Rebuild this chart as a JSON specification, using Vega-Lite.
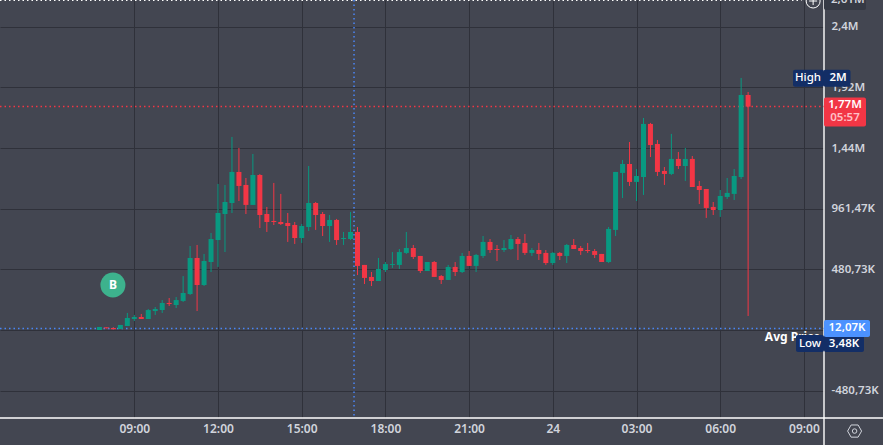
{
  "$schema": "https://vega.github.io/schema/vega-lite/v6.json",
  "width": 824,
  "height": 418,
  "autosize": {"type": "none"},
  "padding": {"left": 0, "top": 0, "right": 59, "bottom": 27},
  "background": "#434651",
  "view": {"stroke": null},
  "config": {"font": "Noto Sans"},
  "datasets": {
    "candles": [
      {"t":"2024-01-23T07:45:00Z","o":0,"h":24,"l":0,"c":24},
      {"t":"2024-01-23T08:00:00Z","o":21,"h":21,"l":13,"c":13},
      {"t":"2024-01-23T08:15:00Z","o":16,"h":21,"l":6,"c":6},
      {"t":"2024-01-23T08:30:00Z","o":8,"h":40,"l":8,"c":40},
      {"t":"2024-01-23T08:45:00Z","o":32,"h":135,"l":32,"c":95},
      {"t":"2024-01-23T09:00:00Z","o":87,"h":119,"l":71,"c":103},
      {"t":"2024-01-23T09:15:00Z","o":103,"h":127,"l":87,"c":87},
      {"t":"2024-01-23T09:30:00Z","o":87,"h":166,"l":87,"c":158},
      {"t":"2024-01-23T09:45:00Z","o":150,"h":182,"l":119,"c":166},
      {"t":"2024-01-23T10:00:00Z","o":158,"h":237,"l":135,"c":214},
      {"t":"2024-01-23T10:15:00Z","o":214,"h":253,"l":190,"c":206},
      {"t":"2024-01-23T10:30:00Z","o":198,"h":261,"l":174,"c":237},
      {"t":"2024-01-23T10:45:00Z","o":230,"h":427,"l":222,"c":293},
      {"t":"2024-01-23T11:00:00Z","o":285,"h":665,"l":277,"c":570},
      {"t":"2024-01-23T11:15:00Z","o":570,"h":673,"l":150,"c":356},
      {"t":"2024-01-23T11:30:00Z","o":356,"h":602,"l":348,"c":546},
      {"t":"2024-01-23T11:45:00Z","o":538,"h":768,"l":459,"c":720},
      {"t":"2024-01-23T12:00:00Z","o":712,"h":1156,"l":499,"c":926},
      {"t":"2024-01-23T12:15:00Z","o":918,"h":1148,"l":617,"c":1013},
      {"t":"2024-01-23T12:30:00Z","o":1005,"h":1528,"l":926,"c":1251},
      {"t":"2024-01-23T12:45:00Z","o":1251,"h":1441,"l":1021,"c":1140},
      {"t":"2024-01-23T13:00:00Z","o":1148,"h":1203,"l":918,"c":990},
      {"t":"2024-01-23T13:15:00Z","o":990,"h":1393,"l":990,"c":1227},
      {"t":"2024-01-23T13:30:00Z","o":1227,"h":1235,"l":807,"c":910},
      {"t":"2024-01-23T13:45:00Z","o":918,"h":974,"l":776,"c":855},
      {"t":"2024-01-23T14:00:00Z","o":863,"h":1164,"l":831,"c":855},
      {"t":"2024-01-23T14:15:00Z","o":855,"h":1077,"l":831,"c":839},
      {"t":"2024-01-23T14:30:00Z","o":847,"h":926,"l":697,"c":823},
      {"t":"2024-01-23T14:45:00Z","o":831,"h":855,"l":681,"c":728},
      {"t":"2024-01-23T15:00:00Z","o":728,"h":839,"l":689,"c":823},
      {"t":"2024-01-23T15:15:00Z","o":815,"h":1298,"l":784,"c":1005},
      {"t":"2024-01-23T15:30:00Z","o":1005,"h":1013,"l":792,"c":910},
      {"t":"2024-01-23T15:45:00Z","o":918,"h":934,"l":744,"c":823},
      {"t":"2024-01-23T16:00:00Z","o":823,"h":910,"l":697,"c":871},
      {"t":"2024-01-23T16:15:00Z","o":871,"h":879,"l":673,"c":712},
      {"t":"2024-01-23T16:30:00Z","o":720,"h":776,"l":673,"c":728},
      {"t":"2024-01-23T16:45:00Z","o":720,"h":934,"l":712,"c":776},
      {"t":"2024-01-23T17:00:00Z","o":776,"h":815,"l":435,"c":507},
      {"t":"2024-01-23T17:15:00Z","o":515,"h":515,"l":364,"c":412},
      {"t":"2024-01-23T17:30:00Z","o":420,"h":459,"l":348,"c":388},
      {"t":"2024-01-23T17:45:00Z","o":388,"h":570,"l":388,"c":483},
      {"t":"2024-01-23T18:00:00Z","o":475,"h":538,"l":459,"c":522},
      {"t":"2024-01-23T18:15:00Z","o":515,"h":617,"l":491,"c":522},
      {"t":"2024-01-23T18:30:00Z","o":515,"h":641,"l":483,"c":617},
      {"t":"2024-01-23T18:45:00Z","o":610,"h":776,"l":602,"c":649},
      {"t":"2024-01-23T19:00:00Z","o":649,"h":673,"l":562,"c":578},
      {"t":"2024-01-23T19:15:00Z","o":586,"h":586,"l":451,"c":467},
      {"t":"2024-01-23T19:30:00Z","o":467,"h":538,"l":467,"c":538},
      {"t":"2024-01-23T19:45:00Z","o":538,"h":546,"l":420,"c":420},
      {"t":"2024-01-23T20:00:00Z","o":427,"h":435,"l":364,"c":396},
      {"t":"2024-01-23T20:15:00Z","o":396,"h":515,"l":396,"c":499},
      {"t":"2024-01-23T20:30:00Z","o":499,"h":538,"l":427,"c":459},
      {"t":"2024-01-23T20:45:00Z","o":459,"h":610,"l":451,"c":586},
      {"t":"2024-01-23T21:00:00Z","o":586,"h":625,"l":507,"c":507},
      {"t":"2024-01-23T21:15:00Z","o":507,"h":602,"l":459,"c":594},
      {"t":"2024-01-23T21:30:00Z","o":586,"h":744,"l":570,"c":697},
      {"t":"2024-01-23T21:45:00Z","o":697,"h":720,"l":610,"c":633},
      {"t":"2024-01-23T22:00:00Z","o":641,"h":673,"l":546,"c":633},
      {"t":"2024-01-23T22:15:00Z","o":633,"h":712,"l":617,"c":649},
      {"t":"2024-01-23T22:30:00Z","o":641,"h":752,"l":633,"c":720},
      {"t":"2024-01-23T22:45:00Z","o":720,"h":736,"l":554,"c":681},
      {"t":"2024-01-23T23:00:00Z","o":689,"h":760,"l":594,"c":610},
      {"t":"2024-01-23T23:15:00Z","o":610,"h":649,"l":586,"c":633},
      {"t":"2024-01-23T23:30:00Z","o":633,"h":689,"l":554,"c":602},
      {"t":"2024-01-23T23:45:00Z","o":610,"h":633,"l":515,"c":530},
      {"t":"2024-01-24T00:00:00Z","o":530,"h":617,"l":515,"c":610},
      {"t":"2024-01-24T00:15:00Z","o":610,"h":617,"l":554,"c":586},
      {"t":"2024-01-24T00:30:00Z","o":586,"h":681,"l":530,"c":673},
      {"t":"2024-01-24T00:45:00Z","o":673,"h":720,"l":641,"c":641},
      {"t":"2024-01-24T01:00:00Z","o":649,"h":665,"l":594,"c":625},
      {"t":"2024-01-24T01:15:00Z","o":633,"h":689,"l":610,"c":625},
      {"t":"2024-01-24T01:30:00Z","o":625,"h":641,"l":570,"c":594},
      {"t":"2024-01-24T01:45:00Z","o":602,"h":602,"l":538,"c":538},
      {"t":"2024-01-24T02:00:00Z","o":538,"h":815,"l":530,"c":800},
      {"t":"2024-01-24T02:15:00Z","o":792,"h":1251,"l":744,"c":1251},
      {"t":"2024-01-24T02:30:00Z","o":1243,"h":1346,"l":1045,"c":1314},
      {"t":"2024-01-24T02:45:00Z","o":1314,"h":1488,"l":1140,"c":1172},
      {"t":"2024-01-24T03:00:00Z","o":1172,"h":1274,"l":1021,"c":1219},
      {"t":"2024-01-24T03:15:00Z","o":1211,"h":1678,"l":1069,"c":1631},
      {"t":"2024-01-24T03:30:00Z","o":1631,"h":1639,"l":1369,"c":1464},
      {"t":"2024-01-24T03:45:00Z","o":1472,"h":1504,"l":1219,"c":1251},
      {"t":"2024-01-24T04:00:00Z","o":1259,"h":1290,"l":1148,"c":1235},
      {"t":"2024-01-24T04:15:00Z","o":1235,"h":1552,"l":1227,"c":1354},
      {"t":"2024-01-24T04:30:00Z","o":1354,"h":1409,"l":1274,"c":1298},
      {"t":"2024-01-24T04:45:00Z","o":1298,"h":1441,"l":1180,"c":1354},
      {"t":"2024-01-24T05:00:00Z","o":1354,"h":1377,"l":1132,"c":1132},
      {"t":"2024-01-24T05:15:00Z","o":1140,"h":1180,"l":997,"c":1108},
      {"t":"2024-01-24T05:30:00Z","o":1116,"h":1116,"l":887,"c":966},
      {"t":"2024-01-24T05:45:00Z","o":974,"h":1013,"l":910,"c":950},
      {"t":"2024-01-24T06:00:00Z","o":950,"h":1108,"l":895,"c":1061},
      {"t":"2024-01-24T06:15:00Z","o":1053,"h":1203,"l":1037,"c":1085},
      {"t":"2024-01-24T06:30:00Z","o":1077,"h":1274,"l":1029,"c":1219},
      {"t":"2024-01-24T06:45:00Z","o":1211,"h":1995,"l":1195,"c":1860},
      {"t":"2024-01-24T07:00:00Z","o":1860,"h":1884,"l":111,"c":1768}
    ]
  },
  "data": {"name": "candles"},
  "encoding": {
    "x": {
      "field": "t",
      "type": "temporal",
      "title": null,
      "scale": {"type": "utc", "domain": [1705983070000, 1706089392000], "nice": false, "padding": 0},
      "axis": {
        "values": [1706000400000, 1706011200000, 1706022000000, 1706032800000, 1706043600000, 1706054400000, 1706065200000, 1706076000000, 1706086800000],
        "grid": true,
        "gridColor": "#2f313a",
        "gridWidth": 1,
        "domain": false,
        "ticks": false,
        "labelColor": "#d1d4dc",
        "labelFontSize": 12,
        "labelFontWeight": 600,
        "labelPadding": 5,
        "labelOverlap": false,
        "labelExpr": "utchours(datum.value) == 0 ? '24' : utcFormat(datum.value, '%H:%M')"
      }
    },
    "y": {
      "field": "o",
      "type": "quantitative",
      "title": null,
      "scale": {"domain": [-696.6, 2612], "nice": false, "zero": false},
      "axis": {
        "orient": "right",
        "values": [-480.73, 0, 480.73, 961.47, 1440, 1920, 2400],
        "grid": true,
        "gridColor": "#2f313a",
        "gridWidth": 1,
        "domain": false,
        "ticks": false,
        "labelColor": "#d1d4dc",
        "labelFontSize": 11.5,
        "labelFontWeight": 600,
        "labelPadding": 7,
        "labelExpr": "datum.value == 0 ? '' : datum.value == 2400 ? '2,4M' : datum.value == 1920 ? '1,92M' : datum.value == 1440 ? '1,44M' : replace(replace(format(datum.value, '.2f'), '.', ','), '\u2212', '-') + 'K'"
      }
    }
  },
  "layer": [
    {
      "data": {"values": [{"t":"2024-01-24T09:43:12Z","o":2612,"c":-910}]},
      "mark": {"type": "rule", "color": "#ffffff", "strokeWidth": 1.4},
      "encoding": {"y2": {"field": "c"}}
    },
    {
      "data": {"values": [{"t":"2024-01-23T04:11:10Z","t2":"2024-01-24T11:50:00Z","o":-696.6}], "format": {"parse": {"t": "date", "t2": "date"}}},
      "mark": {"type": "rule", "color": "#ffffff", "strokeWidth": 1.4},
      "encoding": {"x2": {"field": "t2"}}
    },
    {
      "data": {"values": [{"t":"2024-01-23T04:11:10Z","t2":"2024-01-24T08:55:00Z","o":2610}], "format": {"parse": {"t": "date", "t2": "date"}}},
      "mark": {"type": "rule", "color": "#ffffff", "strokeWidth": 1.5, "strokeDash": [1.5, 3]},
      "encoding": {"x2": {"field": "t2"}}
    },
    {
      "data": {"values": [{"t":"2024-01-23T16:52:30Z","o":2612,"c":-696.6}]},
      "mark": {"type": "rule", "color": "#4a86f7", "strokeWidth": 1.5, "strokeDash": [1.5, 3]},
      "encoding": {"y2": {"field": "c"}}
    },
    {
      "data": {"values": [{"t":"2024-01-23T04:11:10Z","t2":"2024-01-24T09:43:12Z","o":12.07}], "format": {"parse": {"t": "date", "t2": "date"}}},
      "mark": {"type": "rule", "color": "#4a86f7", "strokeWidth": 1.5, "strokeDash": [1.5, 3]},
      "encoding": {"x2": {"field": "t2"}}
    },
    {
      "data": {"values": [{"t":"2024-01-23T04:11:10Z","t2":"2024-01-24T09:43:12Z","o":1770}], "format": {"parse": {"t": "date", "t2": "date"}}},
      "mark": {"type": "rule", "color": "#f23645", "strokeWidth": 1.5, "strokeDash": [1.5, 3]},
      "encoding": {"x2": {"field": "t2"}}
    },
    {
      "mark": {"type": "rule", "strokeWidth": 1},
      "encoding": {
        "y": {"field": "l", "type": "quantitative"},
        "y2": {"field": "h"},
        "color": {"condition": {"test": "datum.c >= datum.o", "value": "#089981"}, "value": "#f23645"}
      }
    },
    {
      "mark": {"type": "bar", "size": 5},
      "encoding": {
        "y2": {"field": "c"},
        "color": {"condition": {"test": "datum.c >= datum.o", "value": "#089981"}, "value": "#f23645"}
      }
    },
    {
      "data": {"values": [{"t": "2024-01-23T08:14:00Z", "o": 356}]},
      "mark": {"type": "point", "shape": "circle", "filled": true, "size": 625, "color": "#3db28d", "opacity": 1}
    },
    {
      "data": {"values": [{"t": "2024-01-23T08:14:00Z", "o": 356, "label": "B"}]},
      "mark": {"type": "text", "color": "#ffffff", "fontSize": 12, "fontWeight": 700},
      "encoding": {"text": {"field": "label"}}
    },
    {
      "data": {"values": [{"t": "2024-01-24T07:36:00Z", "o": 12.07, "label": "Avg Price"}]},
      "mark": {"type": "text", "align": "left", "color": "#ffffff", "fontSize": 12, "fontWeight": 700, "yOffset": 9},
      "encoding": {"text": {"field": "label"}}
    },
    {
      "data": {"values": [{"t": "2024-01-24T09:43:12Z", "o": 2612}]},
      "mark": {"type": "rect", "width": 42, "height": 20, "xOffset": 21, "cornerRadius": 2, "fill": "#363a45"}
    },
    {
      "data": {"values": [{"t": "2024-01-24T09:43:12Z", "o": 2612, "label": "2,61M"}]},
      "mark": {"type": "text", "align": "left", "xOffset": 7, "yOffset": 0, "color": "#d1d4dc", "fontSize": 11.5, "fontWeight": 600},
      "encoding": {"text": {"field": "label"}}
    },
    {
      "data": {"values": [{"t": "2024-01-24T09:19:50Z", "o": 2604}]},
      "mark": {"type": "point", "shape": "circle", "size": 196, "stroke": "#ffffff", "strokeWidth": 1, "opacity": 1, "filled": false}
    },
    {
      "data": {"values": [{"t": "2024-01-24T09:19:50Z", "o": 2604}]},
      "mark": {"type": "point", "shape": "M-1,0L1,0M0,-1L0,1", "size": 64, "stroke": "#ffffff", "strokeWidth": 1, "opacity": 1, "filled": false}
    },
    {
      "data": {"values": [{"t": "2024-01-24T09:43:12Z", "o": 2000}]},
      "mark": {"type": "rect", "width": 31, "height": 17, "xOffset": -15.5, "yOffset": 1, "cornerRadius": 2, "fill": "#132e66"}
    },
    {
      "data": {"values": [{"t": "2024-01-24T09:43:12Z", "o": 2000}]},
      "mark": {"type": "rect", "width": 27, "height": 17, "xOffset": 13, "yOffset": 1, "cornerRadius": 2, "fill": "#132e66"}
    },
    {
      "data": {"values": [{"t": "2024-01-24T09:43:12Z", "o": 2000, "label": "High"}]},
      "mark": {"type": "text", "align": "center", "xOffset": -16, "yOffset": 1, "color": "#ffffff", "fontSize": 11.5, "fontWeight": 500},
      "encoding": {"text": {"field": "label"}}
    },
    {
      "data": {"values": [{"t": "2024-01-24T09:43:12Z", "o": 2000, "label": "2M"}]},
      "mark": {"type": "text", "align": "center", "xOffset": 14, "yOffset": 1, "color": "#ffffff", "fontSize": 11.5, "fontWeight": 600},
      "encoding": {"text": {"field": "label"}}
    },
    {
      "data": {"values": [{"t": "2024-01-24T09:43:12Z", "o": 1770}]},
      "mark": {"type": "rect", "width": 42, "height": 29, "xOffset": 21, "yOffset": 5.5, "cornerRadius": 2, "fill": "#f23645"}
    },
    {
      "data": {"values": [{"t": "2024-01-24T09:43:12Z", "o": 1770, "label": "1,77M"}]},
      "mark": {"type": "text", "align": "center", "xOffset": 21, "yOffset": -1, "color": "#ffffff", "fontSize": 11.5, "fontWeight": 600},
      "encoding": {"text": {"field": "label"}}
    },
    {
      "data": {"values": [{"t": "2024-01-24T09:43:12Z", "o": 1770, "label": "05:57"}]},
      "mark": {"type": "text", "align": "center", "xOffset": 21, "yOffset": 12, "color": "#ffc0c6", "fontSize": 11.5, "fontWeight": 600},
      "encoding": {"text": {"field": "label"}}
    },
    {
      "data": {"values": [{"t": "2024-01-24T09:43:12Z", "o": 3.48}]},
      "mark": {"type": "rect", "width": 40, "height": 17, "xOffset": 20, "yOffset": 14, "cornerRadius": 2, "fill": "#132e66"}
    },
    {
      "data": {"values": [{"t": "2024-01-24T09:43:12Z", "o": 3.48}]},
      "mark": {"type": "rect", "width": 28, "height": 17, "xOffset": -14, "yOffset": 14, "cornerRadius": 2, "fill": "#132e66"}
    },
    {
      "data": {"values": [{"t": "2024-01-24T09:43:12Z", "o": 3.48, "label": "Low"}]},
      "mark": {"type": "text", "align": "center", "xOffset": -14, "yOffset": 14, "color": "#ffffff", "fontSize": 11.5, "fontWeight": 500},
      "encoding": {"text": {"field": "label"}}
    },
    {
      "data": {"values": [{"t": "2024-01-24T09:43:12Z", "o": 3.48, "label": "3,48K"}]},
      "mark": {"type": "text", "align": "center", "xOffset": 20, "yOffset": 14, "color": "#ffffff", "fontSize": 11.5, "fontWeight": 600},
      "encoding": {"text": {"field": "label"}}
    },
    {
      "data": {"values": [{"t": "2024-01-24T09:43:12Z", "o": 12.07}]},
      "mark": {"type": "rect", "width": 46, "height": 17, "xOffset": 23, "cornerRadius": 2, "fill": "#4c92ff"}
    },
    {
      "data": {"values": [{"t": "2024-01-24T09:43:12Z", "o": 12.07, "label": "12,07K"}]},
      "mark": {"type": "text", "align": "center", "xOffset": 23, "color": "#ffffff", "fontSize": 11.5, "fontWeight": 600},
      "encoding": {"text": {"field": "label"}}
    },
    {
      "data": {"values": [{"t": "2024-01-24T10:49:00Z", "o": -800}]},
      "mark": {"type": "point", "shape": "M-1,0L-0.5,-0.87L0.5,-0.87L1,0L0.5,0.87L-0.5,0.87Z", "size": 196, "stroke": "#d1d4dc", "strokeWidth": 1, "opacity": 1, "filled": false}
    },
    {
      "data": {"values": [{"t": "2024-01-24T10:49:00Z", "o": -800}]},
      "mark": {"type": "point", "shape": "circle", "size": 20, "stroke": "#d1d4dc", "strokeWidth": 1, "opacity": 1, "filled": false}
    }
  ]
}
